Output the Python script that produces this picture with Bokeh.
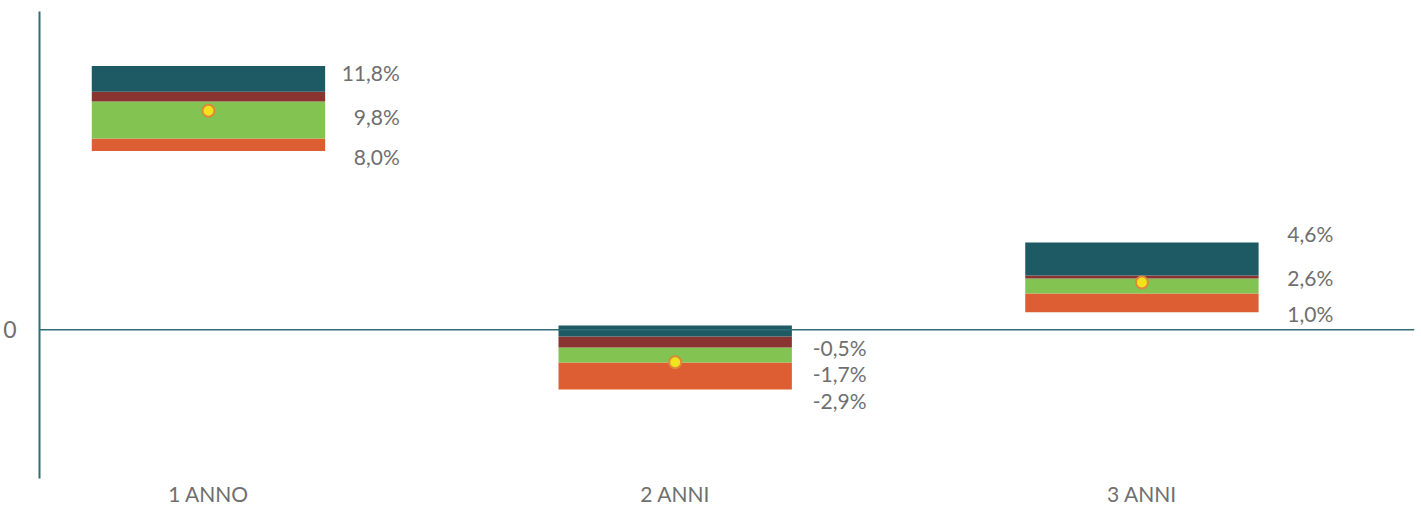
from bokeh.plotting import figure
from bokeh.models import Range1d, FixedTicker, Span, ColumnDataSource
from bokeh.core.properties import value
from bokeh.embed import file_html
from bokeh.resources import INLINE

# ---- data ----
categories = ["1 ANNO", "2 ANNI", "3 ANNI"]
seg_bottom = [8.0, -2.67, 0.79]     # bottom of orange segment
seg_orange = [8.56, -1.46, 1.62]    # top of orange segment
seg_green = [10.21, -0.79, 2.30]    # top of green segment
seg_red = [10.65, -0.30, 2.43]      # top of dark red segment
seg_teal = [11.8, 0.19, 3.91]       # top of teal segment
central = [9.8, -1.45, 2.12]        # yellow dot
label_top = [11.8, -0.5, 4.6]
label_mid = [9.8, -1.7, 2.6]
label_bot = [8.0, -2.9, 1.0]

TEAL = "#1d5a63"
RED = "#8a3431"
GREEN = "#82c352"
ORANGE = "#de5e33"
AXIS = "#2f6e77"
GRAY = "#6f6f6f"
FONT = "Lato"

x = list(range(len(categories)))

p = figure(width=1418, height=508, output_backend="svg", toolbar_location=None,
           x_range=Range1d(-0.362, 2.584), y_range=Range1d(-6.65, 14.24),
           min_border_left=38, min_border_right=4, min_border_top=11, min_border_bottom=10)
p.outline_line_color = None
p.grid.visible = False
p.background_fill_color = "white"
p.border_fill_color = "white"

src = ColumnDataSource(dict(x=x, b=seg_bottom, o=seg_orange, g=seg_green, r=seg_red,
                            t=seg_teal, c=central))
W = 0.5
p.vbar(x="x", bottom="b", top="o", width=W, source=src, fill_color=ORANGE, line_color=None)
p.vbar(x="x", bottom="o", top="g", width=W, source=src, fill_color=GREEN, line_color=None)
p.vbar(x="x", bottom="g", top="r", width=W, source=src, fill_color=RED, line_color=None)
p.vbar(x="x", bottom="r", top="t", width=W, source=src, fill_color=TEAL, line_color=None)

p.add_layout(Span(location=0, dimension="width", line_color=AXIS, line_width=1.5))

p.scatter(x="x", y="c", source=src, size=12, marker="circle",
          fill_color="#f2e41c", line_color="#dc8a3a", line_width=2)

def fmt(v):
    return ("%.1f%%" % v).replace(".", ",")

lx, ly, lt = [], [], []
for i in x:
    for arr in (label_top, label_mid, label_bot):
        lx.append(i + 0.41)
        ly.append(arr[i])
        lt.append(fmt(arr[i]))
p.text(x=lx, y=ly, text=lt, text_align="right", text_baseline="middle", y_offset=6,
       text_font=value(FONT), text_font_size="21px", text_color=GRAY)

# axes
p.yaxis.ticker = FixedTicker(ticks=[0])
p.yaxis.major_label_overrides = {0: "0"}
p.yaxis.axis_line_color = AXIS
p.yaxis.axis_line_width = 2
p.yaxis.major_tick_line_color = None
p.yaxis.minor_tick_line_color = None
p.yaxis.major_label_text_font = FONT
p.yaxis.major_label_text_font_size = "23px"
p.yaxis.major_label_text_color = GRAY
p.yaxis.major_label_standoff = 17

p.xaxis.ticker = FixedTicker(ticks=x)
p.xaxis.major_label_overrides = {i: c for i, c in zip(x, categories)}
p.xaxis.axis_line_color = None
p.xaxis.major_tick_line_color = None
p.xaxis.minor_tick_line_color = None
p.xaxis.major_label_text_font = FONT
p.xaxis.major_label_text_font_size = "21px"
p.xaxis.major_label_text_color = GRAY
p.xaxis.major_label_standoff = -4

open("out.html", "w").write(file_html(p, INLINE))
